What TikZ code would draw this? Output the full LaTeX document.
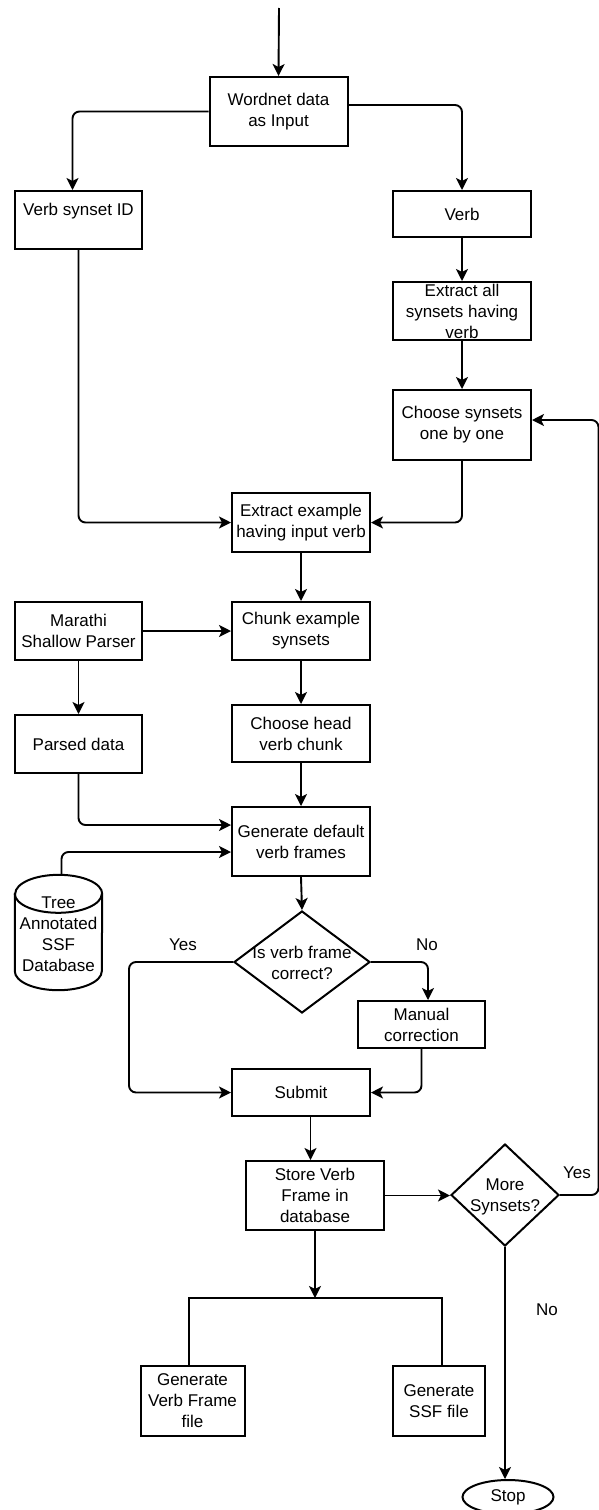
\documentclass[tikz,border=0pt]{standalone}
\usepackage{fontspec}
\setmainfont{Liberation Sans}
\usetikzlibrary{arrows.meta,shapes.geometric,calc}
\begin{document}
\begin{tikzpicture}[x=1pt,y=-1pt,
  every node/.style={font=\fontsize{17}{21}\selectfont, inner sep=0pt, align=center},
  box/.style={draw, rectangle, line width=2pt},
  diam/.style={draw, diamond, line width=2pt},
  conn/.style={line width=1.9pt, rounded corners=7pt},
  arr/.style={conn, -{Stealth[length=12pt,width=12pt,inset=3pt]}},
  lbl/.style={}
]
\useasboundingbox (0,0) rectangle (599,1510);

% nodes
\node[box, minimum width=138pt, minimum height=69pt] (wn) at (278.5,111.5) {Wordnet data\\as Input};
\node[box, minimum width=127pt, minimum height=58pt] (vsid) at (78.5,220) {Verb synset ID\\\mbox{}};
\node[box, minimum width=138pt, minimum height=46pt] (verb) at (462,214) {Verb};
\node[box, minimum width=138pt, minimum height=58pt] (extall) at (462,311) {Extract all\\synsets having\\verb};
\node[box, minimum width=138pt, minimum height=70pt] (choose) at (462,425) {Choose synsets\\one by one};
\node[box, minimum width=138pt, minimum height=59pt] (extex) at (301,522.5) {Extract example\\having input verb};
\node[box, minimum width=138pt, minimum height=58pt] (chunk) at (301,631) {Chunk example\\synsets};
\node[box, minimum width=127pt, minimum height=58pt] (mar) at (78.5,631) {Marathi\\Shallow Parser};
\node[box, minimum width=127pt, minimum height=58pt] (parsed) at (78.5,744) {Parsed data};
\node[box, minimum width=138pt, minimum height=57pt] (head) at (301,733.5) {Choose head\\verb chunk};
\node[box, minimum width=138pt, minimum height=69pt] (gen) at (301,841.5) {Generate default\\verb frames};

% database cylinder
\node[minimum width=87pt, minimum height=115pt] (db) at (58.5,932.5) {};
\draw[line width=2pt, fill=white] ([yshift=-19pt]db.north west) -- ([yshift=19pt]db.south west)
  arc[start angle=180,end angle=360,x radius=43.5pt,y radius=19pt]
  -- ([yshift=-19pt]db.north east)
  arc[start angle=0,end angle=180,x radius=43.5pt,y radius=19pt] -- cycle;
\draw[line width=2pt] ([yshift=-19pt]db.north west) arc[start angle=180,end angle=360,x radius=43.5pt,y radius=19pt];
\node (dbtxt) at (58.5,934) {Tree\\Annotated\\SSF\\Database};

\node[diam, minimum width=136pt, minimum height=102pt] (d1) at (302,962) {};
\node (d1t) at (302,962.5) {Is verb frame\\correct?};
\node[box, minimum width=127pt, minimum height=47pt] (man) at (421.5,1024.5) {Manual\\correction};
\node[box, minimum width=138pt, minimum height=47pt] (sub) at (301,1092.5) {Submit};
\node[box, minimum width=138pt, minimum height=69pt] (store) at (315,1195.5) {Store Verb\\Frame in\\database};
\node[diam, minimum width=108pt, minimum height=102pt] (d2) at (505,1195) {};
\node (d2t) at (505,1196.5) {More\\Synsets?};
\node[box, minimum width=104pt, minimum height=70pt] (gvf) at (192.5,1401) {Generate\\Verb Frame\\file};
\node[box, minimum width=92pt, minimum height=70pt] (gssf) at (439,1401) {Generate\\SSF file};
\node[draw, ellipse, line width=2pt, minimum width=91pt, minimum height=34pt] (stop) at (508,1497) {Stop};

% labels
\node[lbl] (yes1) at (183,945) {Yes};
\node[lbl] (no1) at (427,945) {No};
\node[lbl] (yes2) at (577,1173) {Yes};
\node[lbl] (no2) at (547,1310) {No};

% connectors
\coordinate (start) at (279,8);
\draw[arr] (start) -- (wn.north);
\draw[arr] (wn.west) -| ([xshift=-6pt]vsid.north);
\draw[arr] ([yshift=6.5pt]wn.east) -| (verb.north);
\draw[arr] (verb.south) -- (extall.north);
\draw[arr] (extall.south) -- (choose.north);
\draw[arr] (choose.south) |- (extex.east);
\draw[arr] (vsid.south) |- (extex.west);
\draw[arr] (extex.south) -- (chunk.north);
\draw[arr] (mar.east) -- (chunk.west);
\draw[arr] (mar.south) -- (parsed.north);
\draw[arr] (chunk.south) -- (head.north);
\draw[arr] (head.south) -- (gen.north);
\draw[arr] (parsed.south) |- ([yshift=16.5pt]gen.west);
\draw[arr] ([xshift=3pt]db.north) |- ([yshift=-10.5pt]gen.west);
\draw[arr] (gen.south) -- (d1.north);
\draw[arr] (d1.west) -| ([xshift=-102pt]sub.west) -- (sub.west);
\draw[arr] (d1.east) -| ([xshift=6.5pt]man.north);
\draw[arr] (man.south) |- (sub.east);
\draw[arr] ([xshift=9.5pt]sub.south) -- ([xshift=-4.5pt]store.north);
\draw[arr] (store.east) -- (store.east -| d2.west);
\draw[arr] (d2.east) -- ++(38.5,0) |- ([yshift=5pt]choose.east);
\draw[arr] (d2.south) -- (d2.south |- stop.north);
\coordinate (split) at (315,1298);
\draw[arr] (store.south) -- (split);
\draw[line width=1.9pt] ([xshift=-3.5pt]gvf.north) |- (split) -| ([xshift=3pt]gssf.north);
\end{tikzpicture}
\end{document}
